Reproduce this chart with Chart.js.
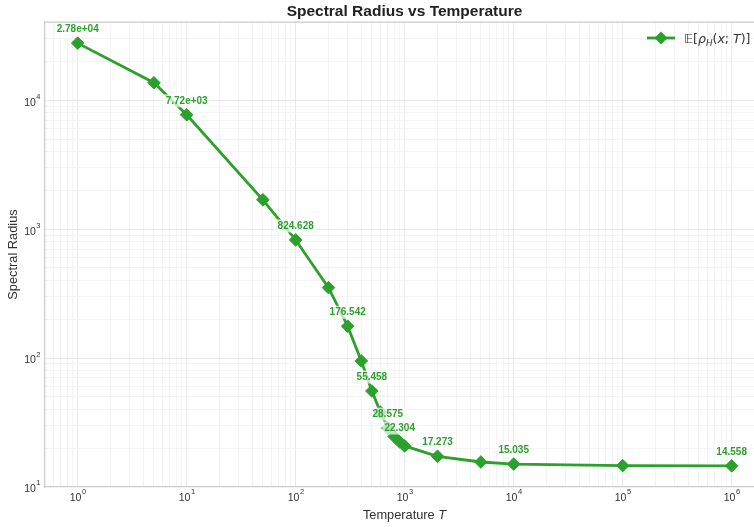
<!DOCTYPE html>
<html>
<head>
<meta charset="utf-8">
<script src="https://cdn.jsdelivr.net/npm/chart.js@4.4.1/dist/chart.umd.min.js"></script>
<style>
  html, body { margin: 0; padding: 0; background: #fff; }
</style>
</head>
<body>
<canvas id="chartSpectral" width="754" height="527"></canvas>
<script>
// values
const temperatures = [1, 5, 10, 50, 100, 200, 300, 400, 500, 600, 700, 800, 900, 1000, 2000, 5000, 10000, 100000, 1000000];
const spectralRadius = [27800, 13700, 7720, 1690, 824.628, 352, 176.542, 95, 55.458, 38, 28.575, 24.6, 22.304, 20.8, 17.273, 15.6, 15.035, 14.62, 14.558];
const xTickPowers = [0, 1, 2, 3, 4, 5, 6];
const yTickPowers = [1, 2, 3, 4];

const green = '#2ca02c';
const textColor = '#333333';
const sansFont = '"Liberation Sans", Arial, sans-serif';
const axesRightEdge = 764; // the original axes run a little past the picture edge

function isPow10(v) {
    const l = Math.log10(v);
    return Math.abs(l - Math.round(l)) < 1e-9;
}

function logTicks(min, max) {
    const out = [];
    for (let p = Math.floor(Math.log10(min)); p <= Math.ceil(Math.log10(max)); p++) {
        for (let m = 1; m <= 9; m++) {
            const v = m * Math.pow(10, p);
            if (v >= min && v <= max) out.push({ value: v });
        }
    }
    return out;
}

function fmtValue(v) {
    if (v >= 1000) {
        const [m, e] = v.toExponential(2).split('e');
        const n = parseInt(e, 10);
        return m + 'e' + (n < 0 ? '-' : '+') + String(Math.abs(n)).padStart(2, '0');
    }
    return v.toFixed(3);
}

const pointLabels = {
    id: 'pointLabels',
    afterDatasetsDraw(chart) {
        const ctx = chart.ctx;
        const meta = chart.getDatasetMeta(0);
        const last = spectralRadius.length - 1;
        ctx.save();
        ctx.font = 'bold 10px ' + sansFont;
        ctx.textAlign = 'center';
        ctx.textBaseline = 'middle';
        meta.data.forEach((pt, i) => {
            if (i % 2 !== 0 && i !== last) return;
            const txt = fmtValue(spectralRadius[i]);
            const w = ctx.measureText(txt).width;
            const y = pt.y - 14;
            ctx.fillStyle = 'rgba(255,255,255,0.7)';
            ctx.fillRect(pt.x - w / 2 - 2, y - 6.5, w + 4, 13);
            ctx.fillStyle = green;
            ctx.fillText(txt, pt.x, y);
        });
        ctx.restore();
    }
};

function drawPowerLabel(ctx, p, cx, cy, align) {
    ctx.font = '10.5px ' + sansFont;
    const w1 = ctx.measureText('10').width;
    ctx.font = '7.5px ' + sansFont;
    const w2 = ctx.measureText(String(p)).width;
    const start = align === 'right' ? cx - w1 - w2 : cx - (w1 + w2) / 2;
    ctx.fillStyle = textColor;
    ctx.textAlign = 'left';
    ctx.textBaseline = 'middle';
    ctx.font = '10.5px ' + sansFont;
    ctx.fillText('10', start, cy);
    ctx.font = '7.5px ' + sansFont;
    ctx.fillText(String(p), start + w1 + 0.5, cy - 6);
}

const decorations = {
    id: 'decorations',
    afterDraw(chart) {
        const ctx = chart.ctx;
        const area = chart.chartArea;
        const xs = chart.scales.x;
        const ys = chart.scales.y;
        ctx.save();

        // top frame line
        ctx.strokeStyle = '#cccccc';
        ctx.lineWidth = 1.25;
        ctx.beginPath();
        ctx.moveTo(area.left, area.top);
        ctx.lineTo(area.right, area.top);
        ctx.stroke();

        // tick labels
        xTickPowers.forEach(p => drawPowerLabel(ctx, p, xs.getPixelForValue(Math.pow(10, p)), 498, 'center'));
        yTickPowers.forEach(p => drawPowerLabel(ctx, p, 40, ys.getPixelForValue(Math.pow(10, p)) + 2.5, 'right'));

        const midX = (area.left + axesRightEdge) / 2;

        // title
        ctx.fillStyle = '#222222';
        ctx.font = 'bold 15.5px ' + sansFont;
        ctx.textAlign = 'center';
        ctx.textBaseline = 'middle';
        ctx.fillText('Spectral Radius vs Temperature', midX, 11.5);

        // x axis title
        const a = 'Temperature ';
        ctx.font = 'italic 12.8px ' + sansFont;
        const wT = ctx.measureText('T').width;
        ctx.font = '12.8px ' + sansFont;
        const wA = ctx.measureText(a).width;
        const sx = midX - (wA + wT) / 2;
        ctx.textAlign = 'left';
        ctx.fillStyle = textColor;
        ctx.fillText(a, sx, 515);
        ctx.font = 'italic 12.8px ' + sansFont;
        ctx.fillText('T', sx + wA, 515);

        // y axis title
        ctx.save();
        ctx.translate(13, (area.top + area.bottom) / 2);
        ctx.rotate(-Math.PI / 2);
        ctx.textAlign = 'center';
        ctx.font = '12.8px ' + sansFont;
        ctx.fillText('Spectral Radius', 0, 0);
        ctx.restore();

        // legend
        const ly = 38;
        ctx.strokeStyle = green;
        ctx.lineWidth = 2.8;
        ctx.beginPath();
        ctx.moveTo(647, ly);
        ctx.lineTo(675, ly);
        ctx.stroke();
        ctx.fillStyle = green;
        ctx.beginPath();
        ctx.moveTo(661, ly - 6.5);
        ctx.lineTo(667.5, ly);
        ctx.lineTo(661, ly + 6.5);
        ctx.lineTo(654.5, ly);
        ctx.closePath();
        ctx.fill();

        const math = '"DejaVu Sans", sans-serif';
        const parts = [
            { t: '\u{1D53C}', f: '12.5px ' + math, dy: 0 },
            { t: '[', f: '12.5px ' + math, dy: 0 },
            { t: 'ρ', f: 'italic 12.5px ' + math, dy: 0 },
            { t: 'H', f: 'italic 8.8px ' + math, dy: 3 },
            { t: '(', f: '12.5px ' + math, dy: 0 },
            { t: 'x', f: 'italic 12.5px ' + math, dy: 0 },
            { t: '; ', f: '12.5px ' + math, dy: 0 },
            { t: 'T', f: 'italic 12.5px ' + math, dy: 0 },
            { t: ')]', f: '12.5px ' + math, dy: 0 }
        ];
        let tx = 684;
        ctx.fillStyle = textColor;
        ctx.textBaseline = 'alphabetic';
        parts.forEach(pt => {
            ctx.font = pt.f;
            ctx.fillText(pt.t, tx, 43 + pt.dy);
            tx += ctx.measureText(pt.t).width;
        });

        ctx.restore();
    }
};

const gridColor = (c) => (c.tick && isPow10(c.tick.value)) ? '#e4e4e4' : '#f1f1f1';

new Chart(document.getElementById('chartSpectral').getContext('2d'), {
    type: 'line',
    data: {
        datasets: [{
            label: 'E[rho_H(x; T)]',
            data: temperatures.map((t, i) => ({ x: t, y: spectralRadius[i] })),
            borderColor: green,
            backgroundColor: green,
            borderWidth: 2.8,
            pointStyle: 'rectRot',
            pointRadius: 6.3,
            pointHoverRadius: 6.3,
            pointBorderWidth: 1,
            tension: 0,
            fill: false
        }]
    },
    options: {
        responsive: false,
        animation: false,
        devicePixelRatio: 1,
        layout: { autoPadding: false, padding: { top: 22, right: 0, left: 0, bottom: 0 } },
        plugins: {
            legend: { display: false },
            tooltip: { enabled: false },
            title: { display: false }
        },
        scales: {
            x: {
                type: 'logarithmic',
                min: Math.pow(10, -0.3),
                max: Math.pow(10, 6.205),
                afterBuildTicks: (s) => { s.ticks = logTicks(s.min, s.max); },
                afterFit: (s) => { s.height = 40; },
                ticks: { display: false },
                grid: { color: gridColor, lineWidth: 0.8, drawTicks: false },
                border: { display: true, color: '#cccccc', width: 1.25 }
            },
            y: {
                type: 'logarithmic',
                min: Math.pow(10, 0.999),
                max: Math.pow(10, 4.608),
                afterBuildTicks: (s) => { s.ticks = logTicks(s.min, s.max); },
                afterFit: (s) => { s.width = 45; },
                ticks: { display: false },
                grid: { color: gridColor, lineWidth: 0.8, drawTicks: false },
                border: { display: true, color: '#cccccc', width: 1.25 }
            }
        }
    },
    plugins: [pointLabels, decorations]
});
</script>
</body>
</html>
